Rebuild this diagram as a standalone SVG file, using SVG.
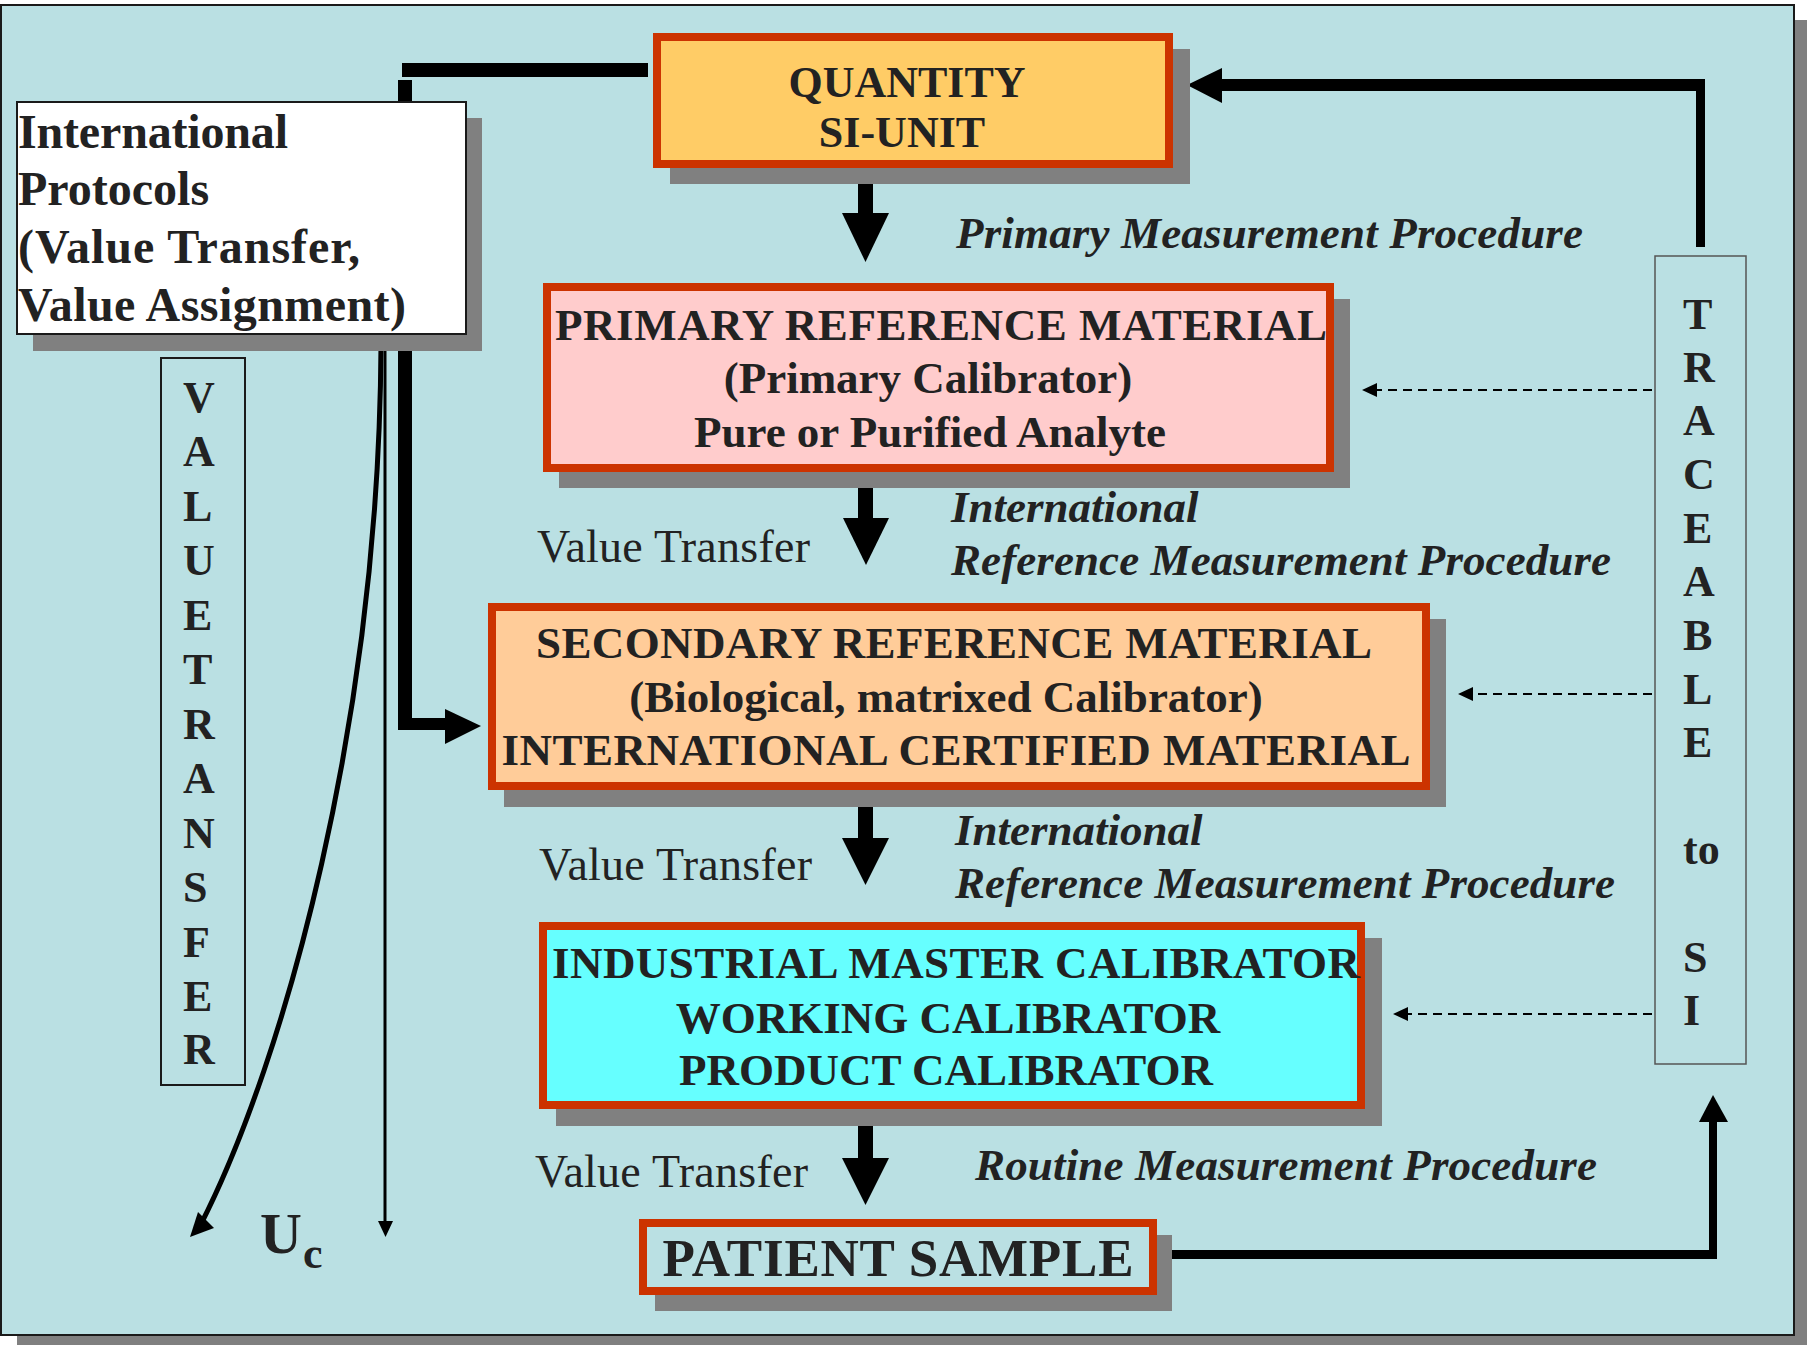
<svg xmlns="http://www.w3.org/2000/svg" width="1807" height="1345" viewBox="0 0 1807 1345">
<style>
.shadow{fill:#808080}
.box{stroke:#CC3300;stroke-width:8}
.t{font-family:"Liberation Serif","Times New Roman",serif;fill:#222}
.b{font-weight:bold}
.i{font-style:italic}
.c{text-anchor:middle}
.f45{font-size:45px}
.vt{font-size:46px}
.blk{fill:#000}
.thick{stroke:#000;fill:none}
.dash{stroke:#000;stroke-width:2;stroke-dasharray:9 6;fill:none}
</style>
<rect x="17" y="20" width="1790" height="1325" class="shadow"/>
<rect x="1" y="5" width="1793" height="1330" fill="#BAE0E3" stroke="#1a1a1a" stroke-width="2"/>

<g id="connectors">
  <rect x="402" y="63" width="246" height="14" class="blk"/>
  <rect x="398" y="80" width="14" height="650" class="blk"/>
  <rect x="398" y="718" width="50" height="12" class="blk"/>
  <polygon points="445,709 481,726 445,744" class="blk"/>
  <line x1="385" y1="345" x2="385" y2="1224" stroke="#000" stroke-width="3"/>
  <polygon points="378,1221 393,1221 385.5,1237" class="blk"/>
  <path d="M381,345 C379,720 285,1060 200,1226" class="thick" stroke-width="5"/>
  <polygon points="190,1237 198,1212 214,1228" class="blk"/>
  <rect x="858" y="182" width="15" height="33" class="blk"/>
  <polygon points="842,213 889,213 865.5,262" class="blk"/>
  <rect x="858" y="486" width="15" height="34" class="blk"/>
  <polygon points="843,518 889,518 866,565" class="blk"/>
  <rect x="858" y="806" width="15" height="34" class="blk"/>
  <polygon points="842,838 889,838 865.5,885" class="blk"/>
  <rect x="858" y="1126" width="15" height="34" class="blk"/>
  <polygon points="842,1158 889,1158 865.5,1205" class="blk"/>
  <rect x="1696" y="79" width="9" height="168" class="blk"/>
  <rect x="1219" y="79" width="486" height="12" class="blk"/>
  <polygon points="1187,85 1222,68 1222,103" class="blk"/>
  <rect x="1172" y="1250" width="545" height="9" class="blk"/>
  <rect x="1709" y="1120" width="8" height="139" class="blk"/>
  <polygon points="1713,1095 1728,1122 1699,1122" class="blk"/>
  <line x1="1652" y1="390" x2="1374" y2="390" class="dash"/>
  <polygon points="1362,390 1377,383 1377,397" class="blk"/>
  <line x1="1652" y1="694" x2="1470" y2="694" class="dash"/>
  <polygon points="1458,694 1473,687 1473,701" class="blk"/>
  <line x1="1652" y1="1014" x2="1405" y2="1014" class="dash"/>
  <polygon points="1393,1014 1408,1007 1408,1021" class="blk"/>
</g>

<g id="protocols">
  <rect x="33" y="118" width="449" height="233" class="shadow"/>
  <rect x="17" y="102" width="449" height="232" fill="#fff" stroke="#1a1a1a" stroke-width="2"/>
  <text class="t b" font-size="48" x="18" y="148" textLength="270">International</text>
  <text class="t b" font-size="48" x="18" y="205">Protocols</text>
  <text class="t b" font-size="48" x="18" y="263" textLength="342">(Value Transfer,</text>
  <text class="t b" font-size="48" x="18" y="321" textLength="388">Value Assignment)</text>
</g>

<g id="value-transfer-vertical">
  <rect x="161" y="358" width="84" height="727" fill="none" stroke="#1a1a1a" stroke-width="2"/>
  <g class="t b" font-size="44">
    <text x="183" y="412">V</text>
    <text x="183" y="466">A</text>
    <text x="183" y="521">L</text>
    <text x="183" y="575">U</text>
    <text x="183" y="630">E</text>
    <text x="183" y="684">T</text>
    <text x="183" y="739">R</text>
    <text x="183" y="793">A</text>
    <text x="183" y="848">N</text>
    <text x="183" y="902">S</text>
    <text x="183" y="957">F</text>
    <text x="183" y="1011">E</text>
    <text x="183" y="1064">R</text>
  </g>
</g>

<g id="uc">
  <text class="t b" font-size="58" x="260" y="1253">U</text>
  <text class="t b" font-size="44" x="303" y="1268">c</text>
</g>

<g id="quantity">
  <rect x="670" y="49" width="520" height="135" class="shadow"/>
  <rect x="657" y="37" width="512" height="127" fill="#FFCC66" class="box"/>
  <text class="t b c" font-size="44" x="907" y="97">QUANTITY</text>
  <text class="t b c" font-size="44" x="902" y="147">SI-UNIT</text>
</g>

<text class="t b i f45" x="956" y="248" textLength="627">Primary Measurement Procedure</text>

<g id="primary">
  <rect x="559" y="299" width="791" height="189" class="shadow"/>
  <rect x="547" y="287" width="783" height="181" fill="#FFCCCC" class="box"/>
  <text class="t b c f45" x="941" y="340" textLength="772">PRIMARY REFERENCE MATERIAL</text>
  <text class="t b c f45" x="928" y="393">(Primary Calibrator)</text>
  <text class="t b c f45" x="930" y="447">Pure or Purified Analyte</text>
</g>

<text class="t vt" x="537" y="562" textLength="273">Value Transfer</text>
<text class="t b i f45" x="951" y="522">International</text>
<text class="t b i f45" x="951" y="575" textLength="660">Reference Measurement Procedure</text>

<g id="secondary">
  <rect x="504" y="619" width="942" height="188" class="shadow"/>
  <rect x="492" y="607" width="934" height="179" fill="#FFCC99" class="box"/>
  <text class="t b c f45" x="954" y="658" textLength="836">SECONDARY REFERENCE MATERIAL</text>
  <text class="t b c f45" x="946" y="712">(Biological, matrixed Calibrator)</text>
  <text class="t b c f45" x="956" y="765" textLength="909">INTERNATIONAL CERTIFIED MATERIAL</text>
</g>

<text class="t vt" x="539" y="880" textLength="273">Value Transfer</text>
<text class="t b i f45" x="955" y="845">International</text>
<text class="t b i f45" x="955" y="898" textLength="660">Reference Measurement Procedure</text>

<g id="industrial">
  <rect x="556" y="938" width="826" height="188" class="shadow"/>
  <rect x="543" y="926" width="818" height="179" fill="#66FFFF" class="box"/>
  <text class="t b c f45" x="956" y="978" textLength="808">INDUSTRIAL MASTER CALIBRATOR</text>
  <text class="t b c f45" x="948" y="1033">WORKING CALIBRATOR</text>
  <text class="t b c f45" x="946" y="1085">PRODUCT CALIBRATOR</text>
</g>

<text class="t vt" x="535" y="1187" textLength="273">Value Transfer</text>
<text class="t b i f45" x="975" y="1180" textLength="622">Routine Measurement Procedure</text>

<g id="patient">
  <rect x="655" y="1235" width="517" height="76" class="shadow"/>
  <rect x="643" y="1223" width="510" height="68" fill="#BAE0E3" class="box" stroke-width="7"/>
  <text class="t b c" font-size="53" x="898" y="1276" textLength="471">PATIENT SAMPLE</text>
</g>

<g id="traceable">
  <rect x="1655" y="256" width="91" height="808" fill="none" stroke="#555" stroke-width="1.5"/>
  <g class="t b" font-size="44">
    <text x="1683" y="329">T</text>
    <text x="1683" y="382">R</text>
    <text x="1683" y="435">A</text>
    <text x="1683" y="489">C</text>
    <text x="1683" y="543">E</text>
    <text x="1683" y="596">A</text>
    <text x="1683" y="650">B</text>
    <text x="1683" y="704">L</text>
    <text x="1683" y="757">E</text>
    <text x="1683" y="864">to</text>
    <text x="1683" y="972">S</text>
    <text x="1683" y="1025">I</text>
  </g>
</g>
</svg>
